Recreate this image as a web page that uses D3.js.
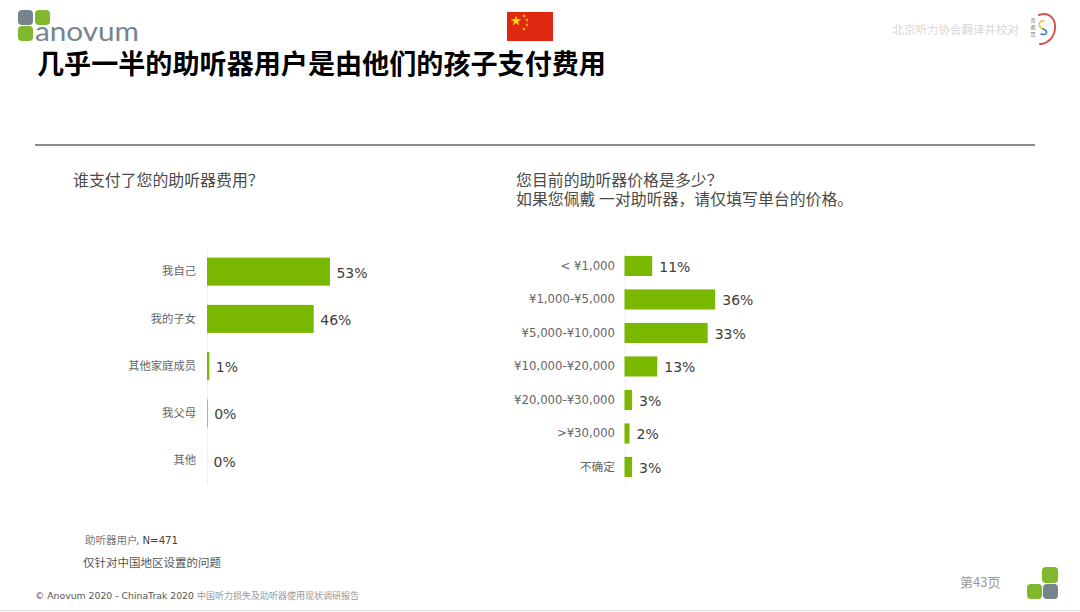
<!DOCTYPE html>
<html>
<head>
<meta charset="utf-8">
<script src="https://cdn.jsdelivr.net/npm/d3@7"></script>
<style>
  html, body { margin: 0; padding: 0; background: #fff; }
  svg { display: block; }
  text { font-family: "Noto Sans CJK SC", sans-serif; }
</style>
</head>
<body>
<div id="chart"></div>
<script>
// values
const payerCategories = ["我自己", "我的子女", "其他家庭成员", "我父母", "其他"];
const payerValues = [53, 46, 1, 0.3, 0];
const priceCategories = ["< ¥1,000", "¥1,000-¥5,000", "¥5,000-¥10,000", "¥10,000-¥20,000", "¥20,000-¥30,000", ">¥30,000", "不确定"];
const priceValues = [11, 36, 33, 13, 3, 2, 3];

const green = "#7ab800";
const latin = "'DejaVu Sans', sans-serif";
const cjk = "'Noto Sans CJK SC', sans-serif";

const svg = d3.select("#chart").append("svg")
    .attr("width", 1080)
    .attr("height", 612);

svg.append("rect").attr("width", 1080).attr("height", 612).attr("fill", "#fff");

function square(g, x, y, size, fill) {
    g.append("rect")
        .attr("x", x).attr("y", y)
        .attr("width", size).attr("height", size)
        .attr("rx", 4)
        .attr("fill", fill);
}

// top left logo
const logo = svg.append("g");
square(logo, 18, 10, 15, "#76858c");
square(logo, 35, 10, 15, "#7fb82c");
square(logo, 18, 26, 15, "#7fb82c");
logo.append("text")
    .attr("x", 35).attr("y", 41)
    .attr("font-size", 26)
    .attr("textLength", 104)
    .attr("lengthAdjust", "spacingAndGlyphs")
    .attr("fill", "#76858c")
    .style("font-family", "Lato, sans-serif")
    .text("anovum");

// flag
const flag = svg.append("g").attr("transform", "translate(507,12)");
flag.append("rect").attr("width", 46).attr("height", 29).attr("fill", "#de2910");
const star = d3.symbol().type(d3.symbolStar);
flag.append("path").attr("d", star.size(34)()).attr("transform", "translate(9,9)").attr("fill", "#ffde00");
[[17, 4], [20, 8], [20, 13], [17, 17]].forEach(function(p) {
    flag.append("path").attr("d", star.size(4)()).attr("transform", "translate(" + p[0] + "," + p[1] + ")").attr("fill", "#ffde00");
});

// top right credit and ear mark
svg.append("text")
    .attr("x", 1019).attr("y", 34)
    .attr("text-anchor", "end")
    .attr("font-size", 11.5)
    .attr("fill", "#d8d8d8")
    .text("北京听力协会翻译并校对");
const ear = svg.append("g").attr("fill", "none").attr("stroke-linecap", "round");
ear.append("path").attr("d", "M1039,15 C1050,11 1056,20 1055,29 C1054,37 1048,44 1040,44").attr("stroke", "#d9534f").attr("stroke-width", 2);
ear.append("path").attr("d", "M1044,21 C1038,20 1038,27 1043,29").attr("stroke", "#e8c93a").attr("stroke-width", 1.6);
ear.append("path").attr("d", "M1043,29 C1049,31 1047,36 1041,34").attr("stroke", "#3a78b5").attr("stroke-width", 1.6);
[20, 27, 34].forEach(function(y, i) {
    svg.append("text")
        .attr("x", 1033).attr("y", y + 2)
        .attr("text-anchor", "middle")
        .attr("font-size", 5)
        .attr("fill", "#777")
        .text(["首", "都", "耳"][i]);
});

// title and rule
svg.append("text")
    .attr("x", 37).attr("y", 74)
    .attr("font-size", 27.1)
    .attr("font-weight", 700)
    .attr("fill", "#000")
    .text("几乎一半的助听器用户是由他们的孩子支付费用");
svg.append("line")
    .attr("x1", 35).attr("x2", 1035)
    .attr("y1", 145).attr("y2", 145)
    .attr("stroke", "#8c8c8c")
    .attr("stroke-width", 2);

// chart questions, the right one wraps on two lines
svg.append("text")
    .attr("x", 73).attr("y", 186)
    .attr("font-size", 15.9)
    .attr("fill", "#4a4a4a")
    .text("谁支付了您的助听器费用？");
const question = svg.append("text")
    .attr("x", 516).attr("y", 186)
    .attr("font-size", 15.9)
    .attr("fill", "#4a4a4a");
question.append("tspan")
    .attr("x", 516)
    .text("您目前的助听器价格是多少？");
question.append("tspan")
    .attr("x", 516)
    .attr("dy", 19)
    .text("如果您佩戴 一对助听器，请仅填写单台的价格。");

function barChart(categories, values, opt) {
    const x = d3.scaleLinear().domain([0, 100]).range([opt.left, opt.left + opt.pxPerPct * 100]);
    const y = d3.scaleBand().domain(categories).range([opt.top, opt.bottom])
        .paddingInner(opt.padding)
        .paddingOuter(opt.padding / 2);

    const axis = svg.append("g")
        .attr("transform", "translate(" + opt.left + ",0)")
        .call(d3.axisLeft(y).tickSize(0).tickPadding(opt.tickPadding));
    axis.select(".domain").attr("stroke", "#f0f0f0");
    axis.selectAll("text")
        .attr("fill", "#666")
        .attr("font-size", opt.tickSize)
        .style("font-family", function(d) { return /[¥]/.test(d) ? latin : cjk; });

    const rows = categories.map(function(c, i) { return { c: c, v: values[i] }; });

    svg.selectAll(null)
        .data(rows)
        .enter()
        .append("rect")
        .attr("x", x(0))
        .attr("y", function(d) { return y(d.c); })
        .attr("width", function(d) { return x(d.v) - x(0); })
        .attr("height", y.bandwidth())
        .attr("fill", green);

    svg.selectAll(null)
        .data(rows)
        .enter()
        .append("text")
        .attr("x", function(d) { return x(d.v) + opt.labelGap; })
        .attr("y", function(d) { return y(d.c) + y.bandwidth() / 2 + 1; })
        .attr("dy", "0.35em")
        .attr("font-size", 14)
        .attr("fill", "#404040")
        .style("font-family", latin)
        .text(function(d) { return Math.round(d.v) + "%"; });
}

barChart(payerCategories, payerValues, {
    left: 207, pxPerPct: 2.32, top: 248, bottom: 484.25, padding: 0.407,
    tickPadding: 11, tickSize: 11.3, labelGap: 6.5
});
barChart(priceCategories, priceValues, {
    left: 624.5, pxPerPct: 2.52, top: 249.2, bottom: 483.7, padding: 0.4,
    tickPadding: 9.5, tickSize: 11.7, labelGap: 7
});

// footnotes
svg.append("text")
    .attr("x", 85).attr("y", 544)
    .attr("font-size", 10.5)
    .attr("fill", "#777")
    .text("助听器用户");
svg.append("text")
    .attr("x", 136).attr("y", 544)
    .attr("font-size", 10.2)
    .attr("fill", "#444")
    .style("font-family", latin)
    .text(", N=471");
svg.append("text")
    .attr("x", 83).attr("y", 567)
    .attr("font-size", 11.5)
    .attr("fill", "#555")
    .text("仅针对中国地区设置的问题");
svg.append("text")
    .attr("x", 35).attr("y", 599)
    .attr("font-size", 9.3)
    .attr("fill", "#555")
    .style("font-family", latin)
    .text("© Anovum 2020 - ChinaTrak 2020");
svg.append("text")
    .attr("x", 197).attr("y", 599)
    .attr("font-size", 9)
    .attr("fill", "#999")
    .text("中国听力损失及助听器使用现状调研报告");
svg.append("text")
    .attr("x", 960).attr("y", 587)
    .attr("font-size", 13)
    .attr("fill", "#999")
    .text("第43页");

// bottom right logo and page edge
const logo2 = svg.append("g");
square(logo2, 1042, 567, 16, "#7fb82c");
square(logo2, 1027, 584, 15, "#7fb82c");
square(logo2, 1043, 584, 15, "#76858c");
svg.append("line")
    .attr("x1", 0).attr("x2", 1080)
    .attr("y1", 610.5).attr("y2", 610.5)
    .attr("stroke", "#dddddd");
</script>
</body>
</html>
